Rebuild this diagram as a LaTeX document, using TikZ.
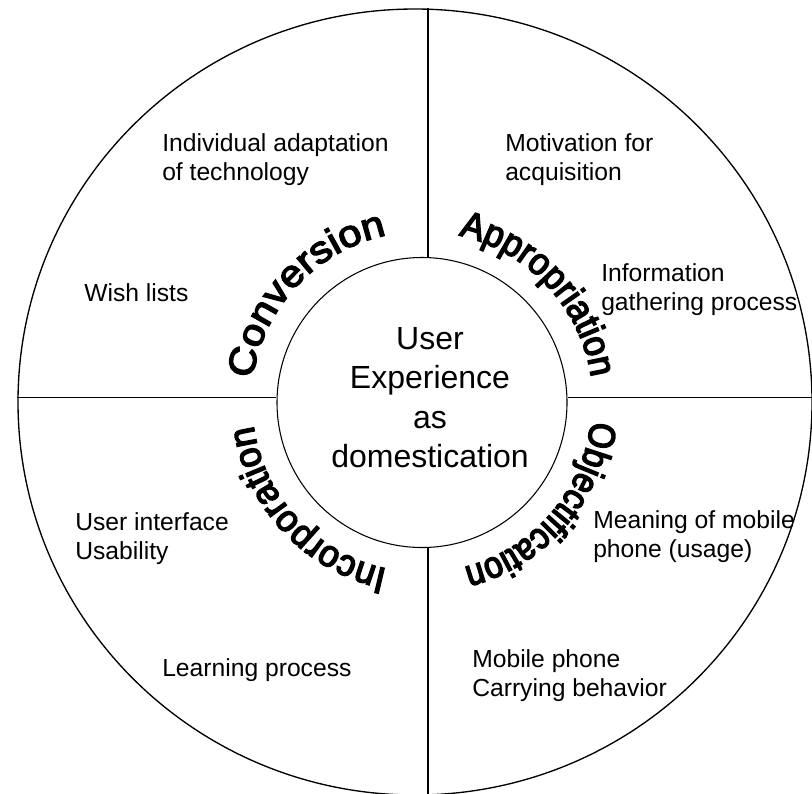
\documentclass[tikz,border=0pt]{standalone}
\usepackage{fontspec}
\setmainfont{Liberation Sans}
\newfontfamily\convfam{Liberation Sans}[FakeBold=4, FakeStretch=1.11]
\newfontfamily\approfam{Liberation Sans}[FakeBold=4, FakeStretch=0.93]
\newfontfamily\objfam{Liberation Sans}[FakeBold=4, FakeStretch=0.88]
\newfontfamily\incfam{Liberation Sans}[FakeBold=4, FakeStretch=0.96]
\usetikzlibrary{decorations.text,shapes.geometric}
\newcommand\convfont{\convfam\fontsize{28}{28}\selectfont}
\newcommand\approfont{\approfam\fontsize{28}{28}\selectfont}
\newcommand\objfont{\objfam\fontsize{28}{28}\selectfont}
\newcommand\incfont{\incfam\fontsize{28}{28}\selectfont}
\newcommand\notefont{\fontsize{18.5}{22}\selectfont}
\newcommand\corefont{\fontsize{24}{29.6}\selectfont}
\begin{document}
\begin{tikzpicture}[x=0.75pt,y=0.75pt,
  divider/.style={line width=1pt},
  note/.style={font=\notefont, align=left, anchor=north west, inner sep=0pt},
  phase/.style 2 args={decorate, decoration={text along path, text={|#1|#2}, text align=center}}]
\useasboundingbox (0,0) rectangle (812,-793);
\fill[white] (0,0) rectangle (812,-793);
% outer ring and core circle
\node[ellipse, draw, line width=1pt, minimum width=595.5pt, minimum height=589.5pt, inner sep=0pt] (outer) at (415,-402) {};
\node[circle, draw, line width=0.8pt, minimum size=217.5pt, inner sep=0pt] (core) at (422,-402.5) {};
\coordinate (vx) at (428,0);
\coordinate (hy) at (0,-397.7);
\draw[divider] (outer.north -| vx) -- (core.north -| vx);
\draw[divider] (core.south -| vx) -- (outer.south -| vx);
\draw[divider] (outer.west |- hy) -- (core.west |- hy);
\draw[divider] (core.east |- hy) -- (outer.east |- hy);
% centre text
\node[font=\corefont, align=center, anchor=north, inner sep=0pt] (title) at (430,-327) {User\\Experience\\as\\domestication};
% curved phase names
\path[phase={\convfont}{Conversion}] (core.center) ++(182:171) arc[start angle=182, end angle=92, radius=171];
\path[phase={\approfont}{Appropriation}] (core.center) ++(88:171) arc[start angle=88, end angle=-2, radius=171];
\path[phase={\objfont}{Objectification}] (core.center) ++(4:170) arc[start angle=4, end angle=-86, radius=170];
\path[phase={\incfont}{Incorporation}] (core.center) ++(268:170) arc[start angle=268, end angle=178, radius=170];
% notes
\node[note] (n1) at (162,-133) {Individual adaptation\\of technology};
\node[note] (n2) at (84,-283) {Wish lists};
\node[note] (n3) at (505,-133) {Motivation for\\acquisition};
\node[note] (n4) at (601,-263) {Information\\gathering process};
\node[note] (n5) at (75,-512) {User interface\\Usability};
\node[note] (n6) at (162,-658) {Learning process};
\node[note] (n7) at (593,-510) {Meaning of mobile\\phone (usage)};
\node[note] (n8) at (472,-649) {Mobile phone\\Carrying behavior};
\end{tikzpicture}
\end{document}
